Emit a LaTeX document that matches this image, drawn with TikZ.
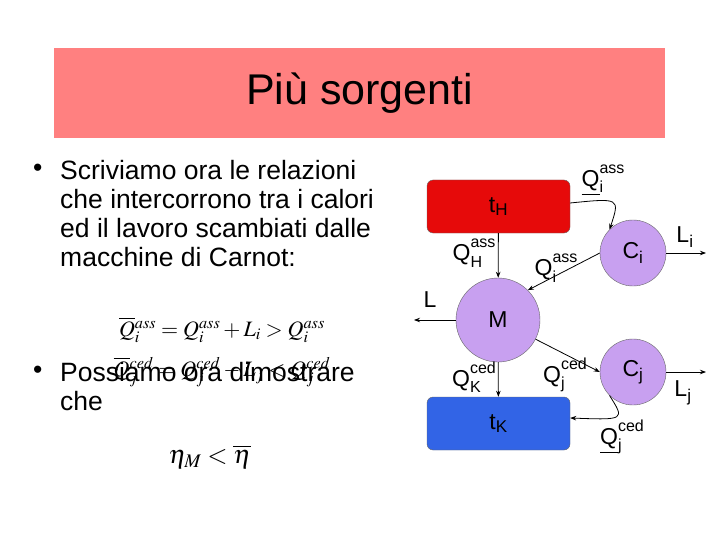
\documentclass[tikz,border=0pt]{standalone}
\usepackage{mathptmx}
\usepackage{fontspec}
\setmainfont{Liberation Sans}
\newcommand\sbsp[3]{#1\rlap{\raisebox{-0.5ex}{\fontsize{16}{16}\selectfont #2}}\raisebox{1.1ex}{\fontsize{16}{16}\selectfont #3}}
\usetikzlibrary{arrows.meta}
\definecolor{titlebg}{RGB}{255,128,128}
\definecolor{hot}{RGB}{230,10,10}
\definecolor{cold}{RGB}{50,100,230}
\definecolor{eng}{RGB}{200,160,240}
\begin{document}
\begin{tikzpicture}[x=1pt,y=-1pt,
  btxt/.style={anchor=north west,align=left,font=\fontsize{26.5}{29}\selectfont,inner sep=0},
  res/.style={draw=black!60,rounded corners=6pt,minimum width=143pt,minimum height=53pt,font=\fontsize{23}{23}\selectfont},
  engc/.style={circle,draw=black!60,fill=eng,font=\fontsize{23}{23}\selectfont},
  flow/.style={-{Stealth[length=6pt]},thick},
  lab/.style={font=\fontsize{23}{23}\selectfont,inner sep=0}]
\useasboundingbox (0,0) rectangle (720,540);
\node[fill=titlebg,minimum width=611pt,minimum height=90pt,anchor=north west,font=\fontsize{43}{46}\selectfont] (title) at (54,48) {Più sorgenti};
\node[btxt] (b1) at (33,164) {•};
\node[btxt] (t1) at (60,160) {Scriviamo ora le relazioni\\che intercorrono tra i calori\\ed il lavoro scambiati dalle\\macchine di Carnot:};
\node[btxt] (b2) at (33,366) {•};
\node[btxt] (t2) at (60,362) {Possiamo ora dimostrare\\che};
\node[font=\fontsize{22}{22}\selectfont] (f1) at (222,330) {$\overline{Q}{}_i^{ass}=Q_i^{ass}+L_i>Q_i^{ass}$};
\node[font=\fontsize{22}{22}\selectfont] (f2) at (222,372) {$\overline{Q}{}_j^{ced}=Q_j^{ced}-L_j<Q_j^{ced}$};
\node[font=\fontsize{26}{26}\selectfont] (f3) at (210,457) {$\eta_M<\overline{\eta}$};
\node[res,fill=hot] (tH) at (498.5,206.5) {t\textsubscript{H}};
\node[res,fill=cold] (tK) at (498.5,423.5) {t\textsubscript{K}};
\node[engc,minimum size=84pt] (M) at (498,320) {M};
\node[engc,minimum size=66pt] (Ci) at (633,253) {C\textsubscript{i}};
\node[engc,minimum size=66pt] (Cj) at (633,372) {C\textsubscript{j}};
\coordinate (Le) at (414,320);
\coordinate (Lie) at (706,253);
\coordinate (Lje) at (706,372);
\draw[flow] (tH) -- (M);
\draw[flow] (M) -- (tK);
\draw[flow] (tH.east |- 0,203) .. controls (620,198) .. (Ci.north west);
\draw[flow] (Ci.west) -- (M.north east);
\draw[flow] (M) -- (Cj.west);
\draw[flow] (M.west) -- (Le);
\draw[flow] (Ci.east) -- (Lie);
\draw[flow] (Cj.east) -- (Lje);
\draw[flow] (Cj.south west) .. controls (625,420) .. (tK.east |- 0,418);
\node[lab] (qh) at (474,253) {\sbsp{Q}{H}{ass}};
\node[lab] (qk) at (474,377) {\sbsp{Q}{K}{ced}};
\node[lab] (qia) at (603,180) {\sbsp{\underline{Q}}{i}{ass}};
\node[lab] (qi) at (556,268) {\sbsp{Q}{i}{ass}};
\node[lab] (qj) at (565,375) {\sbsp{Q}{j}{ced}};
\node[lab] (qjc) at (622,437) {\sbsp{\underline{Q}}{j}{ced}};
\node[lab] (L) at (430,300) {L};
\node[lab] (Li) at (685,237) {L\textsubscript{i}};
\node[lab] (Lj) at (683,393) {L\textsubscript{j}};
\end{tikzpicture}
\end{document}
